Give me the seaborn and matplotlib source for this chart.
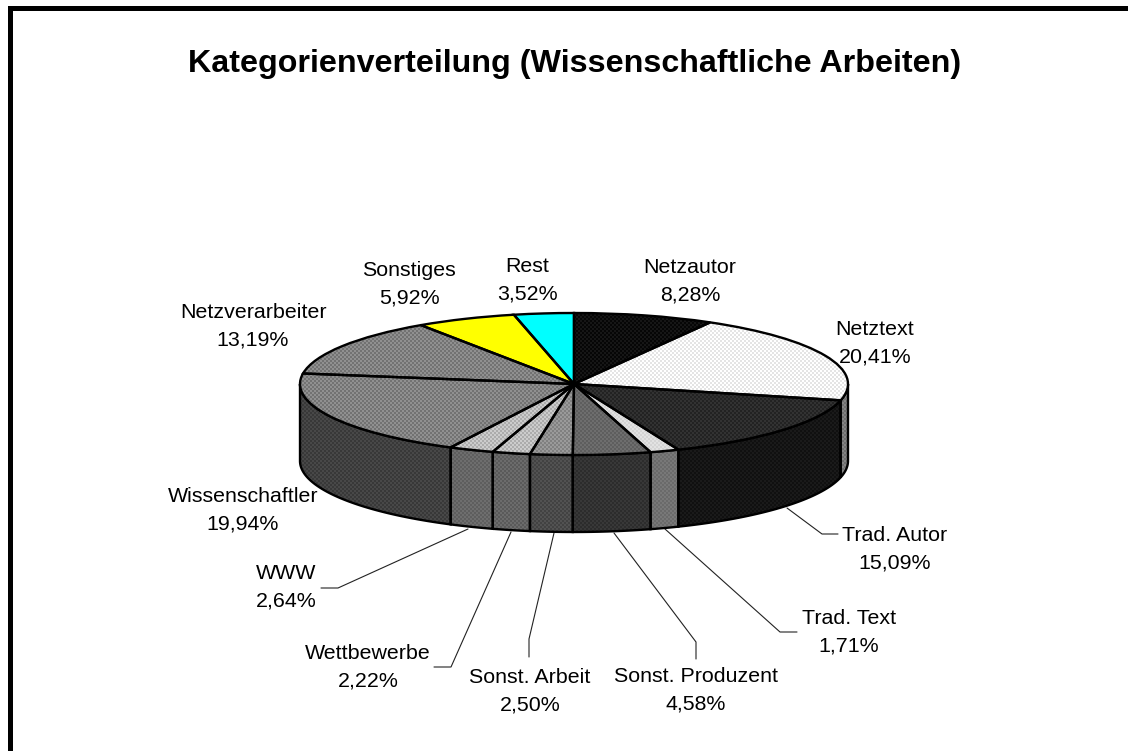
import numpy as np
import seaborn as sns
import matplotlib.pyplot as plt
from matplotlib.colors import to_rgb
from matplotlib.patches import Rectangle
from matplotlib.transforms import Affine2D

title = 'Kategorienverteilung (Wissenschaftliche Arbeiten)'
categories = ['Netzautor', 'Netztext', 'Trad. Autor', 'Trad. Text', 'Sonst. Produzent', 'Sonst. Arbeit',
              'Wettbewerbe', 'WWW', 'Wissenschaftler', 'Netzverarbeiter', 'Sonstiges', 'Rest']
values = [8.28, 20.41, 15.09, 1.71, 4.58, 2.50, 2.22, 2.64, 19.94, 13.19, 5.92, 3.52]

# two tones of the dither per slice, top face and side wall
top_tones = [('#060606', '#161616'), ('#ffffff', '#e4e4e4'), ('#222222', '#323232'), ('#d4d4d4', '#e2e2e2'),
             ('#5e5e5e', '#6e6e6e'), ('#808080', '#9a9a9a'), ('#acacac', '#cccccc'), ('#acacac', '#cccccc'),
             ('#727272', '#909090'), ('#727272', '#909090'), ('#ffff00', '#ffff00'), ('#00ffff', '#00ffff')]
wall_tones = [('#000000', '#000000'), ('#6e6e6e', '#848484'), ('#101010', '#1a1a1a'), ('#6a6a6a', '#787878'),
              ('#2c2c2c', '#383838'), ('#424242', '#525252'), ('#5a5a5a', '#6c6c6c'), ('#5e5e5e', '#6e6e6e'),
              ('#383838', '#484848'), ('#383838', '#484848'), ('#000000', '#000000'), ('#000000', '#000000')]

# label centres in pixels
label_pos = [(690, 281), (875, 343), (895, 549), (849, 632), (696, 690), (530, 691),
             (368, 667), (286, 587), (243, 510), (253, 326), (409, 284), (527, 280)]
leaders = {
    'Trad. Autor': [(787, 508), (822, 534), (838, 534)],
    'Trad. Text': [(665, 529), (780, 632), (797, 632)],
    'Sonst. Produzent': [(614, 533), (696, 642), (696, 659)],
    'Sonst. Arbeit': [(554, 533), (529, 639), (529, 657)],
    'Wettbewerbe': [(511, 532), (451, 667), (434, 667)],
    'WWW': [(468, 529), (338, 588), (321, 588)],
}

W, H = 1128, 751
cx, cy, a, b, depth = 574, 384, 274, 71, 77

sns.set_theme(style='white')
plt.rcParams['font.family'] = ['Liberation Sans']

fig = plt.figure(figsize=(W / 100, H / 100), dpi=100)
ax = fig.add_axes([0, 0, 1, 1])
px = Affine2D().scale(1 / W, -1 / H).translate(0, 1) + fig.transFigure

xlim = (-cx / a, (W - cx) / a)
ylim = ((cy - H) / b, cy / b)


def texture(tones):
    lo, hi = [np.array(to_rgb(c)) for c in tones]
    yy, xx = np.indices((H, W))
    mask = ((xx // 2 + yy // 2) % 2)[..., None]
    return lo * mask + hi * (1 - mask)


def shade(patch, tones, z):
    im = ax.imshow(texture(tones), extent=(*xlim, *ylim), aspect='auto', interpolation='nearest', zorder=z)
    im.set_clip_path(patch)


ends = np.cumsum(values) / sum(values) * 360
starts = np.r_[0, ends[:-1]]

# side walls, only the front half of the disc shows
for s, e, tones in zip(starts, ends, wall_tones):
    t1, t2 = max(s, 90), min(e, 270)
    if t2 <= t1:
        continue
    t = np.radians(np.linspace(t1, t2, 80))
    xs = np.sin(t)
    ys = np.cos(t)
    poly = ax.fill(np.r_[xs, xs[::-1]], np.r_[ys, ys[::-1] - depth / b], fc='none', ec='black', lw=1.7, zorder=3)[0]
    shade(poly, tones, 2)

clip_wedges, _ = ax.pie(values, startangle=90, counterclock=False, radius=1, colors=[t[0] for t in top_tones],
                        wedgeprops={'zorder': 4, 'lw': 0})
for w, tones in zip(clip_wedges, top_tones):
    shade(w, tones, 5)
ax.pie(values, startangle=90, counterclock=False, radius=1,
       wedgeprops={'zorder': 6, 'fc': 'none', 'ec': 'black', 'lw': 1.7})

ax.set_aspect('auto')
ax.set_xlim(*xlim)
ax.set_ylim(*ylim)
ax.axis('off')

# L-shaped frame, open to the right and bottom
ax.add_patch(Rectangle((8, 6), W - 8, 5, fc='black', ec='none', transform=px, zorder=1))
ax.add_patch(Rectangle((8, 6), 5, H - 6, fc='black', ec='none', transform=px, zorder=1))

ax.text(575, 64, title, transform=px, ha='center', va='center', fontsize=23.2, fontweight='bold', color='black')

for name, v, (x, y) in zip(categories, values, label_pos):
    pct = f'{v:.2f}%'.replace('.', ',')
    ax.text(x, y, f'{name}\n{pct}', transform=px, ha='center', va='center', fontsize=15.4, color='black',
            linespacing=1.58, zorder=8)

for name, pts in leaders.items():
    xs, ys = zip(*pts)
    ax.plot(xs, ys, transform=px, color='#222222', lw=0.8, zorder=1)

fig.savefig('out.png', dpi=100)
